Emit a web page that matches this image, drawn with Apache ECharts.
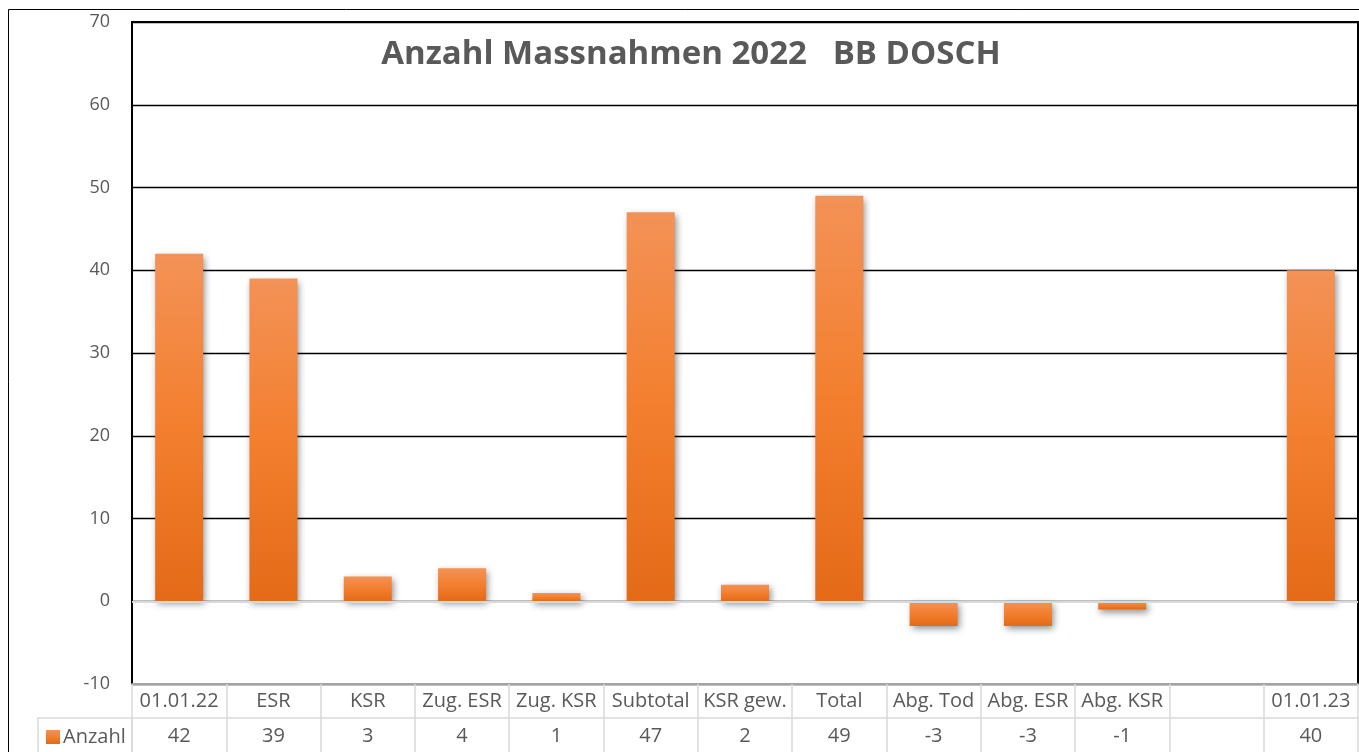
<!DOCTYPE html>
<html>
<head>
<meta charset="utf-8">
<script src="https://cdn.jsdelivr.net/npm/echarts@6/dist/echarts.min.js"></script>
<style>
  html, body { margin: 0; padding: 0; background: #fff; }
  #chart { width: 1359px; height: 752px; }
</style>
</head>
<body>
<div id="chart"></div>
<script>
const categories = ["01.01.22", "ESR", "KSR", "Zug. ESR", "Zug. KSR", "Subtotal", "KSR gew.", "Total", "Abg. Tod", "Abg. ESR", "Abg. KSR", "", "01.01.23"];
const anzahl = [42, 39, 3, 4, 1, 47, 2, 49, -3, -3, -1, null, 40];
const yTicks = { min: -10, max: 70, step: 10 };

const gridGrey = "#d9d9d9";
const textGrey = "#595959";
const font = "Open Sans";

let chart = echarts.init(document.getElementById("chart"));

let option = {
  animation: false,
  textStyle: { fontFamily: font },
  title: {
    text: "Anzahl Massnahmen 2022   BB DOSCH",
    left: 686,
    top: 33,
    textAlign: "center",
    textStyle: { fontFamily: font, fontSize: 33, fontWeight: "bold", color: textGrey }
  },
  legend: {
    left: 41,
    top: 722,
    itemWidth: 14,
    itemHeight: 14,
    itemGap: 4,
    icon: "rect",
    textStyle: { fontFamily: font, fontSize: 20, color: textGrey, padding: [0, 0, 0, -2] },
    data: ["Anzahl"]
  },
  grid: {
    left: 132,
    top: 22,
    right: 1,
    bottom: 68,
    show: true,
    borderColor: "#000",
    borderWidth: 2
  },
  xAxis: [
    {
      type: "category",
      data: categories,
      position: "bottom",
      axisLine: { onZero: false, lineStyle: { color: gridGrey, width: 1.5 } },
      axisTick: { show: true, length: 34, lineStyle: { color: gridGrey, width: 1.5 } },
      axisLabel: { interval: 0, margin: 7, fontSize: 20, color: textGrey }
    },
    {
      type: "category",
      data: anzahl.map(v => (v == null ? "" : String(v))),
      position: "bottom",
      offset: 34,
      axisLine: { onZero: false, lineStyle: { color: gridGrey, width: 1.5 } },
      axisTick: { show: true, length: 34, lineStyle: { color: gridGrey, width: 1.5 } },
      axisLabel: { interval: 0, margin: 8, fontSize: 20, color: textGrey }
    }
  ],
  yAxis: {
    type: "value",
    min: yTicks.min,
    max: yTicks.max,
    interval: yTicks.step,
    axisLine: { show: false },
    axisTick: { show: false },
    axisLabel: { fontSize: 18, color: textGrey, margin: 22 },
    splitLine: { lineStyle: { color: "#000", width: 1.3 } }
  },
  graphic: [
    {
      type: "rect",
      shape: { x: 8.5, y: 9.5, width: 1400, height: 800 },
      style: { fill: "none", stroke: "#000", lineWidth: 1 },
      silent: true
    },
    {
      type: "rect",
      shape: { x: 38, y: 718, width: 94, height: 60 },
      style: { fill: "none", stroke: gridGrey, lineWidth: 1.5 },
      silent: true
    }
  ],
  series: [
    {
      name: "Anzahl",
      type: "bar",
      data: anzahl,
      barWidth: 48,
      itemStyle: {
        color: new echarts.graphic.LinearGradient(0, 0, 0, 1, [
          { offset: 0, color: "#f39257" },
          { offset: 0.5, color: "#f37f2e" },
          { offset: 1, color: "#e46a17" }
        ]),
        shadowColor: "rgba(0,0,0,0.45)",
        shadowBlur: 7,
        shadowOffsetX: 2,
        shadowOffsetY: 3
      },
      markLine: {
        silent: true,
        symbol: "none",
        label: { show: false },
        lineStyle: { color: gridGrey, type: "solid", width: 2 },
        data: [{ yAxis: 0 }]
      }
    }
  ],
  color: ["#ed7d31"]
};

chart.setOption(option);
</script>
</body>
</html>
